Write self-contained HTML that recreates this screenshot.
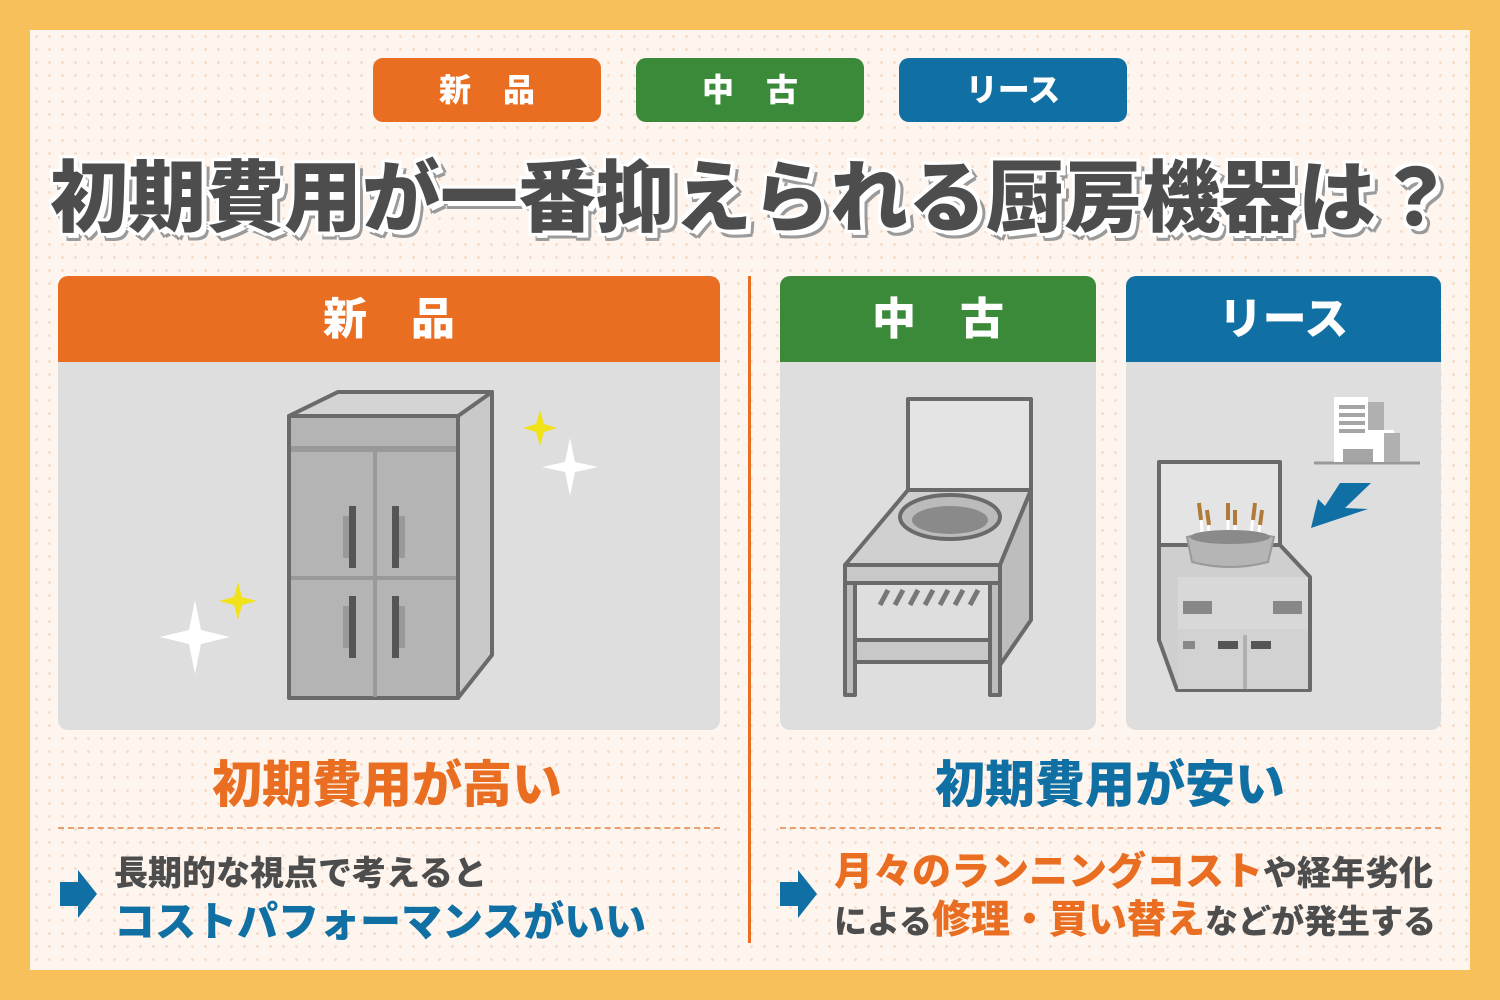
<!DOCTYPE html>
<html><head><meta charset="utf-8"><style>
*{margin:0;padding:0;box-sizing:border-box}
body{width:1500px;height:1000px;background:#f8c05a;position:relative;overflow:hidden;font-family:"Liberation Sans","Noto Sans CJK JP",sans-serif;font-weight:900}
#in{position:absolute;left:30px;top:30px;width:1440px;height:940px;background-color:#fdf5ee;background-image:radial-gradient(#f6dccb 1.3px,transparent 1.6px);background-size:13px 13px}
.a{position:absolute;white-space:nowrap}
.tag{position:absolute;top:58px;width:228px;height:64px;border-radius:10px;color:#fff;font-size:32px;text-align:center;line-height:64px}
.hd{position:absolute;top:276px;height:87px;border-radius:10px 10px 0 0;color:#fff;font-size:44px;text-align:center;line-height:87px}
.bd{position:absolute;top:362px;height:368px;background:#dedede;border-radius:0 0 10px 10px}
.title{top:136px;left:50px;font-size:78px;color:#4d4d4d;letter-spacing:0px;
text-shadow:0 0 0 #fff,3px 0 #fff,-3px 0 #fff,0 3px #fff,0 -3px #fff,3px 3px #fff,-3px -3px #fff,3px -3px #fff,-3px 3px #fff,5px 5px #fff,6px 7px #9a9a9a,7px 8px #9a9a9a,4px 8px #9a9a9a,8px 5px #9a9a9a}
.dash{position:absolute;top:827px;height:0;border-top:2px dashed #e9a070}
</style></head><body>
<div id="in"></div>
<div class="tag" style="left:373px;background:#e96e22">新　品</div>
<div class="tag" style="left:636px;background:#3a8a3a">中　古</div>
<div class="tag" style="left:899px;background:#106fa3">リース</div>
<div class="a title">初期費用が一番抑えられる厨房機器は？</div>

<div class="hd" style="left:58px;width:662px;background:#e96e22">新　品</div>
<div class="bd" style="left:58px;width:662px"></div>
<div class="hd" style="left:780px;width:316px;background:#3a8a3a">中　古</div>
<div class="bd" style="left:780px;width:316px"></div>
<div class="hd" style="left:1126px;width:315px;background:#106fa3">リース</div>
<div class="bd" style="left:1126px;width:315px"></div>
<div style="position:absolute;left:748px;top:276px;width:3px;height:667px;background:#e96e22"></div>

<svg width="1500" height="1000" style="position:absolute;left:0;top:0">
 <g stroke="#6a6a6a" stroke-width="4" stroke-linejoin="round">
  <polygon points="289,416 338,392 492,392 492,655 458,698 458,416" fill="#c9c9c9"/>
  <polygon points="289,416 338,392 492,392 458,416" fill="#d4d4d4"/>
  <rect x="289" y="416" width="169" height="282" fill="#b4b4b4"/>
 </g>
 <rect x="291" y="446" width="165" height="6" fill="#999"/>
 <line x1="375" y1="452" x2="375" y2="697" stroke="#999" stroke-width="4"/>
 <line x1="291" y1="578" x2="456" y2="578" stroke="#999" stroke-width="4"/>
 <g fill="#555"><rect x="349" y="506" width="7" height="62"/><rect x="392" y="506" width="7" height="62"/><rect x="349" y="596" width="7" height="62"/><rect x="392" y="596" width="7" height="62"/></g>
 <g fill="#999"><rect x="343" y="516" width="6" height="42"/><rect x="399" y="516" width="6" height="42"/><rect x="343" y="606" width="6" height="42"/><rect x="399" y="606" width="6" height="42"/></g>
 <path d="M540 410 L544 424 L557 428 L544 432 L540 446 L536 432 L523 428 L536 424Z" fill="#f2e21a"/>
 <path d="M570 438 L575 462 L598 467 L575 472 L570 496 L565 472 L542 467 L565 462Z" fill="#fff"/>
 <path d="M238 582 L242 597 L257 601 L242 605 L238 620 L234 605 L219 601 L234 597Z" fill="#f2e21a"/>
 <path d="M195 600 L201 630 L230 637 L201 644 L195 674 L189 644 L160 637 L189 630Z" fill="#fff"/>
 <g stroke="#6a6a6a" stroke-width="4" stroke-linejoin="round">
  <rect x="908" y="399" width="123" height="110" fill="#e4e4e4"/>
  <polygon points="908,490 1031,490 1000,565 845,565" fill="#d0d0d0"/>
  <rect x="845" y="565" width="155" height="18" fill="#c8c8c8"/>
  <polygon points="1000,565 1031,490 1031,620 1000,665" fill="#bdbdbd"/>
  <rect x="845" y="583" width="10" height="112" fill="#bdbdbd"/>
  <rect x="990" y="583" width="10" height="112" fill="#bdbdbd"/>
  <rect x="855" y="640" width="135" height="22" fill="#c8c8c8"/>
 </g>
 <ellipse cx="950" cy="517" rx="50" ry="22" fill="#bbb" stroke="#6a6a6a" stroke-width="4"/>
 <ellipse cx="950" cy="520" rx="38" ry="14" fill="#8a8a8a"/>
 <g stroke="#777" stroke-width="5"><line x1="880" y1="605" x2="888" y2="590"/><line x1="895" y1="605" x2="903" y2="590"/><line x1="910" y1="605" x2="918" y2="590"/><line x1="925" y1="605" x2="933" y2="590"/><line x1="940" y1="605" x2="948" y2="590"/><line x1="955" y1="605" x2="963" y2="590"/><line x1="970" y1="605" x2="978" y2="590"/></g>
 <g stroke="#6a6a6a" stroke-width="4" stroke-linejoin="round">
  <rect x="1159" y="462" width="121" height="110" fill="#e4e4e4"/>
  <polygon points="1159,545 1280,545 1310,577 1310,690 1177,690 1159,640" fill="#cfcfcf"/>
 </g>
 <rect x="1178" y="577" width="130" height="52" fill="#d8d8d8"/>
 <rect x="1178" y="629" width="130" height="60" fill="#d2d2d2"/>
 <rect x="1243" y="635" width="4" height="54" fill="#b0b0b0"/>
 <g fill="#888"><rect x="1183" y="601" width="29" height="13"/><rect x="1273" y="601" width="29" height="13"/><rect x="1183" y="641" width="12" height="8"/></g>
 <g fill="#555"><rect x="1218" y="641" width="20" height="8"/><rect x="1251" y="641" width="20" height="8"/></g>
 <g stroke="#fff" stroke-width="3"><line x1="1200" y1="505" x2="1203" y2="545"/><line x1="1207" y1="510" x2="1210" y2="545"/><line x1="1228" y1="505" x2="1228" y2="545"/><line x1="1235" y1="510" x2="1235" y2="545"/><line x1="1254" y1="505" x2="1250" y2="545"/><line x1="1261" y1="510" x2="1258" y2="545"/></g>
 <g stroke="#b07a3a" stroke-width="4"><line x1="1199" y1="503" x2="1201" y2="520"/><line x1="1207" y1="510" x2="1209" y2="525"/><line x1="1228" y1="503" x2="1228" y2="520"/><line x1="1235" y1="510" x2="1235" y2="525"/><line x1="1255" y1="503" x2="1253" y2="520"/><line x1="1262" y1="510" x2="1260" y2="525"/></g>
 <path d="M1187 537 Q1230 527 1274 537 L1268 562 Q1230 572 1192 562Z" fill="#b5b5b5" stroke="#999" stroke-width="2"/>
 <ellipse cx="1230" cy="537" rx="40" ry="7" fill="#8a8a8a"/>
 <line x1="1314" y1="463" x2="1420" y2="463" stroke="#999" stroke-width="3"/>
 <rect x="1334" y="397" width="34" height="65" fill="#fff"/>
 <rect x="1368" y="402" width="16" height="60" fill="#b0b0b0"/>
 <rect x="1348" y="430" width="46" height="32" fill="#fff"/>
 <rect x="1384" y="433" width="16" height="29" fill="#b0b0b0"/>
 <g fill="#a5a5a5"><rect x="1339" y="405" width="26" height="4"/><rect x="1339" y="413" width="26" height="4"/><rect x="1339" y="421" width="26" height="4"/><rect x="1339" y="429" width="26" height="4"/><rect x="1343" y="449" width="30" height="13"/></g>
 <polygon points="1371,483 1345,508 1368,509 1311,528 1318,499 1325,506 1340,483" fill="#106fa3"/>
 <path d="M60 882 H78 V870 L97 894 L78 918 V906 H60Z" fill="#106fa3"/>
 <path d="M780 882 H798 V870 L817 894 L798 918 V906 H780Z" fill="#106fa3"/>
</svg>

<div class="a" style="left:212px;top:745px;font-size:50px;color:#e96e22">初期費用が高い</div>
<div class="a" style="left:935px;top:745px;font-size:50px;color:#106fa3">初期費用が安い</div>
<div class="dash" style="left:58px;width:662px"></div>
<div class="dash" style="left:780px;width:661px"></div>

<div class="a" style="left:114px;top:846px;font-size:34px;color:#4d4d4d">長期的な視点で考えると</div>
<div class="a" style="left:114px;top:888px;font-size:41px;color:#106fa3">コストパフォーマンスがいい</div>

<div class="a" style="left:834px;top:841px;color:#4d4d4d;font-size:34px"><span style="color:#e96e22;font-size:39px">月々のランニングコスト</span>や経年劣化</div>
<div class="a" style="left:834px;top:889px;color:#4d4d4d;font-size:33px">による<span style="color:#e96e22;font-size:39px">修理・買い替え</span>などが発生する</div>
</body></html>
